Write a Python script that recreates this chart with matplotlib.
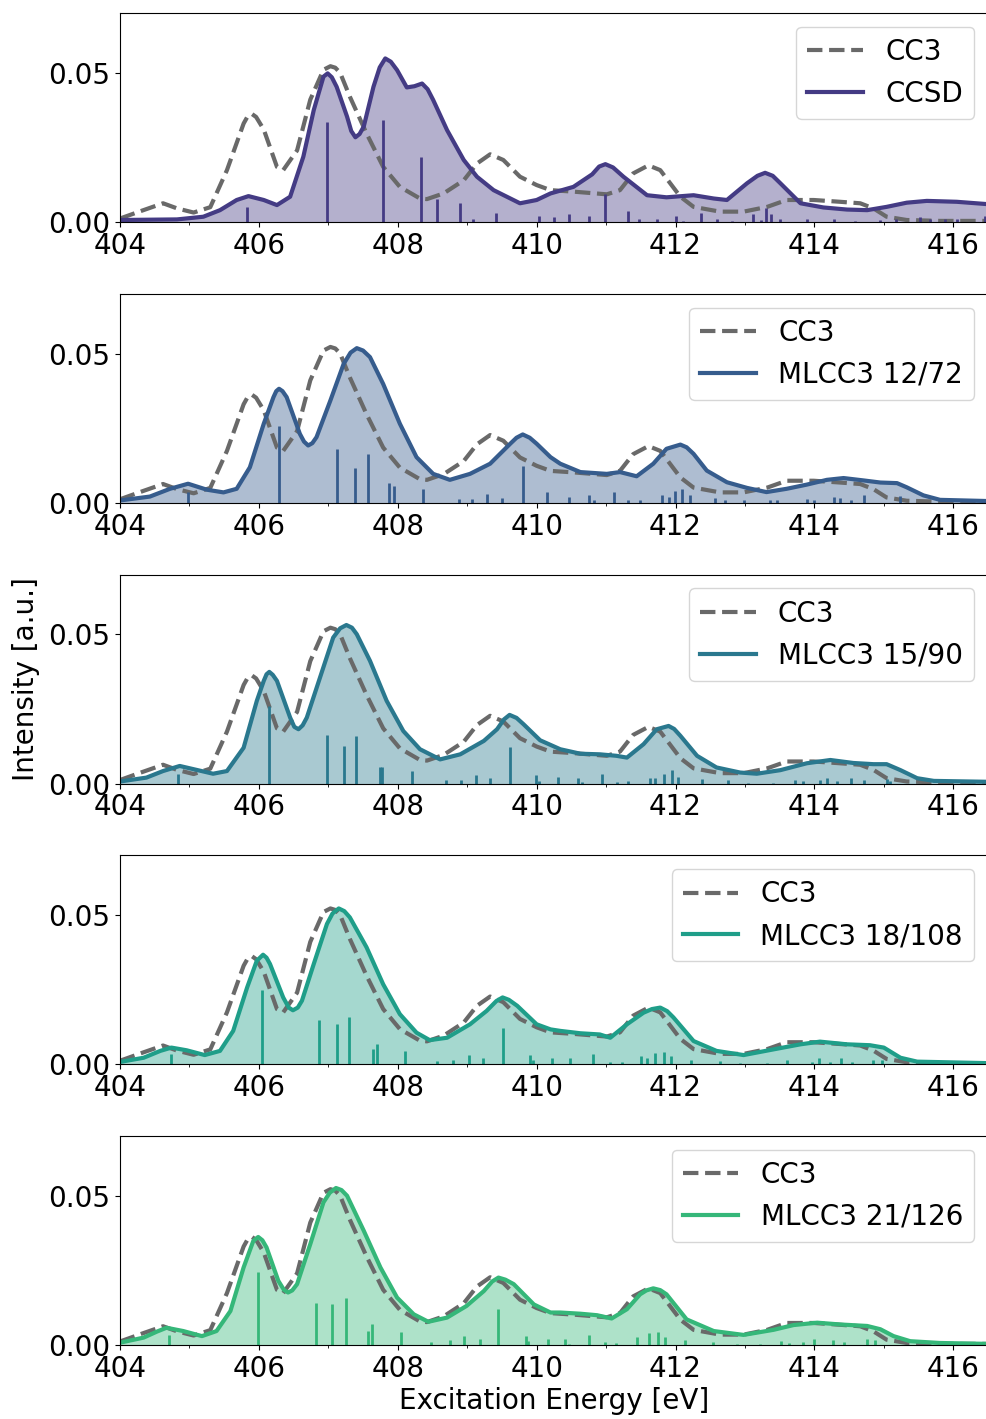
import numpy as np
import matplotlib
matplotlib.use("Agg")
import matplotlib.pyplot as plt
from matplotlib.ticker import MultipleLocator

plt.rcParams['font.size'] = 20

# CC3 reference spectrum (same in every panel)
cc3_energy = [404.0, 404.3, 404.62, 404.82, 405.06, 405.3, 405.54, 405.78, 405.84, 405.9,
              405.96, 406.07, 406.26, 406.35, 406.55, 406.74, 406.93, 407.03, 407.1, 407.17,
              407.31, 407.55, 407.79, 408.03, 408.32, 408.42, 408.66, 408.95, 409.14, 409.33,
              409.52, 409.76, 410.0, 410.2, 410.53, 411.01, 411.2, 411.39, 411.61, 411.78,
              412.07, 412.26, 412.64, 412.98, 413.32, 413.6, 413.99, 414.37, 414.66, 414.85,
              415.04, 415.33, 415.81, 416.5]
cc3_intensity = [0.0012, 0.0037, 0.0063, 0.0046, 0.0032, 0.005, 0.0174, 0.033, 0.0355, 0.0362,
                 0.0352, 0.031, 0.0185, 0.0174, 0.024, 0.041, 0.051, 0.0522, 0.0517, 0.050,
                 0.042, 0.0297, 0.0185, 0.0118, 0.0079, 0.0077, 0.0096, 0.014, 0.0196, 0.0227,
                 0.0208, 0.0152, 0.0124, 0.0107, 0.0102, 0.0093, 0.0107, 0.0163, 0.019, 0.0174,
                 0.0085, 0.0051, 0.0035, 0.0035, 0.0051, 0.0074, 0.0074, 0.0068, 0.0063, 0.0046,
                 0.0018, 0.0007, 0.0004, 0.0004]

# CCSD
ccsd_energy = [404.0, 404.82, 405.2, 405.44, 405.68, 405.85, 406.07, 406.26, 406.45, 406.64,
               406.79, 406.93, 406.99, 407.05, 407.12, 407.27, 407.33, 407.39, 407.45, 407.51,
               407.65, 407.74, 407.82, 407.9, 407.99, 408.13, 408.24, 408.35, 408.43, 408.51,
               408.71, 408.95, 409.14, 409.38, 409.76, 410.0, 410.2, 410.53, 410.8, 410.9,
               410.99, 411.1, 411.25, 411.59, 411.87, 412.26, 412.55, 412.74, 413.03, 413.18,
               413.29, 413.4, 413.51, 413.8, 414.13, 414.47, 414.76, 415.04, 415.33, 415.62,
               416.05, 416.5]
ccsd_intensity = [0.0007, 0.0009, 0.0018, 0.004, 0.0074, 0.0087, 0.0074, 0.0057, 0.0085, 0.0219,
                  0.0375, 0.0487, 0.0498, 0.0485, 0.0453, 0.0353, 0.0305, 0.0284, 0.0295, 0.032,
                  0.0453, 0.0518, 0.0548, 0.0537, 0.0509, 0.0451, 0.0455, 0.0464, 0.0445, 0.0409,
                  0.0308, 0.0208, 0.0152, 0.0107, 0.0063, 0.0074, 0.0096, 0.0118, 0.016, 0.0186,
                  0.0194, 0.0183, 0.0152, 0.009, 0.0083, 0.009, 0.0079, 0.0074, 0.013, 0.0155,
                  0.0165, 0.0155, 0.013, 0.0063, 0.0049, 0.0042, 0.004, 0.0051, 0.0065, 0.0071,
                  0.0068, 0.006]
ccsd_stick_energy = [405.83, 406.98, 407.79, 408.34, 408.56, 408.9, 409.08, 409.42, 410.03, 410.25,
                     410.46, 410.76, 410.98, 411.31, 411.48, 411.73, 412.01, 412.11, 412.36, 412.6,
                     412.81, 413.11, 413.23, 413.3, 413.37, 413.51, 413.89, 414.28, 414.58, 414.95,
                     415.17, 415.52, 415.67, 415.88, 416.05, 416.46]
ccsd_stick_height = [0.0049, 0.0334, 0.0342, 0.0218, 0.0076, 0.0063, 0.001, 0.0032, 0.0019, 0.0016,
                     0.0027, 0.002, 0.0094, 0.0037, 0.0012, 0.0012, 0.002, 0.0003, 0.0032, 0.0009,
                     0.0003, 0.0027, 0.0007, 0.0046, 0.0027, 0.001, 0.001, 0.0012, 0.0004, 0.0007,
                     0.0011, 0.0016, 0.0012, 0.001, 0.0011, 0.0021]

# MLCC3 12/72
ml12_energy = [404.0, 404.43, 404.72, 404.98, 405.25, 405.49, 405.68, 405.87, 406.07, 406.21,
               406.25, 406.29, 406.34, 406.4, 406.59, 406.65, 406.71, 406.77, 406.83, 407.03,
               407.22, 407.32, 407.41, 407.5, 407.6, 407.79, 408.03, 408.27, 408.51, 408.75,
               409.04, 409.33, 409.62, 409.71, 409.8, 409.9, 410.0, 410.2, 410.34, 410.63,
               411.01, 411.2, 411.44, 411.68, 411.87, 412.07, 412.16, 412.26, 412.45, 412.74,
               413.03, 413.31, 413.6, 413.89, 414.18, 414.42, 414.71, 414.95, 415.19, 415.33,
               415.57, 415.81, 416.5]
ml12_intensity = [0.0008, 0.0021, 0.0047, 0.0064, 0.0044, 0.0035, 0.0047, 0.0119, 0.0265, 0.0354,
                  0.0374, 0.0382, 0.0374, 0.0354, 0.0231, 0.0205, 0.0192, 0.02, 0.022, 0.0343,
                  0.0465, 0.0503, 0.0518, 0.051, 0.0488, 0.0398, 0.0265, 0.0153, 0.0097, 0.0077,
                  0.0097, 0.0131, 0.0198, 0.0218, 0.0229, 0.0218, 0.0198, 0.0153, 0.0131, 0.0103,
                  0.0097, 0.0103, 0.0089, 0.0131, 0.0181, 0.0195, 0.0186, 0.0164, 0.0108, 0.0069,
                  0.005, 0.0036, 0.0047, 0.0061, 0.0077, 0.0083, 0.0075, 0.0068, 0.0066, 0.0052,
                  0.0025, 0.001, 0.0006]
ml12_stick_energy = [404.98, 406.29, 407.12, 407.39, 407.57, 407.88, 407.94, 408.36, 408.88, 409.07,
                     409.28, 409.5, 409.8, 410.15, 410.47, 410.76, 410.82, 411.11, 411.31, 411.49,
                     411.8, 411.9, 411.99, 412.1, 412.21, 412.57, 412.71, 412.98, 413.36, 413.46,
                     413.89, 413.99, 414.28, 414.37, 414.52, 414.71, 415.24]
ml12_stick_height = [0.0036, 0.0258, 0.0181, 0.0117, 0.0164, 0.0065, 0.0057, 0.0047, 0.0013, 0.0013,
                     0.003, 0.0017, 0.0122, 0.0036, 0.0021, 0.0025, 0.001, 0.0036, 0.0008, 0.0008,
                     0.0025, 0.0021, 0.0038, 0.0047, 0.0025, 0.0017, 0.0011, 0.0011, 0.0008, 0.0008,
                     0.0013, 0.0008, 0.0019, 0.0017, 0.001, 0.0026, 0.0022]

# MLCC3 15/90
ml15_energy = [404.0, 404.38, 404.62, 404.86, 405.1, 405.34, 405.54, 405.78, 405.97, 406.07,
               406.11, 406.15, 406.2, 406.26, 406.45, 406.51, 406.57, 406.63, 406.69, 406.88,
               407.07, 407.17, 407.26, 407.34, 407.41, 407.6, 407.84, 408.08, 408.32, 408.61,
               408.9, 409.24, 409.43, 409.53, 409.61, 409.71, 409.81, 410.05, 410.34, 410.63,
               410.91, 411.15, 411.3, 411.54, 411.73, 411.9, 411.98, 412.07, 412.31, 412.59,
               412.93, 413.17, 413.51, 413.89, 414.23, 414.56, 414.85, 415.04, 415.24, 415.48,
               415.72, 416.5]
ml15_intensity = [0.0007, 0.002, 0.0042, 0.0059, 0.0046, 0.0033, 0.0042, 0.012, 0.0277, 0.0344,
                  0.0366, 0.0374, 0.0364, 0.0344, 0.0221, 0.019, 0.0182, 0.0195, 0.0221, 0.0355,
                  0.0489, 0.052, 0.0531, 0.0522, 0.05, 0.0411, 0.0277, 0.0176, 0.0115, 0.0081,
                  0.0098, 0.0143, 0.0182, 0.0215, 0.023, 0.022, 0.0199, 0.0145, 0.0115, 0.01,
                  0.0098, 0.0093, 0.0087, 0.0132, 0.0182, 0.0193, 0.0183, 0.016, 0.0093, 0.0054,
                  0.0037, 0.0033, 0.0045, 0.0068, 0.0079, 0.0069, 0.0065, 0.0065, 0.0045, 0.0018,
                  0.0009, 0.0006]
ml15_stick_energy = [404.84, 406.14, 406.98, 407.23, 407.4, 407.74, 407.78, 408.2, 408.69, 408.91,
                     409.12, 409.33, 409.61, 409.99, 410.04, 410.31, 410.59, 410.65, 410.94, 411.16,
                     411.32, 411.63, 411.71, 411.83, 411.95, 412.04, 412.38, 412.76, 413.05, 413.41,
                     413.72, 413.84, 414.08, 414.18, 414.32, 414.52, 414.71, 415.04, 415.09]
ml15_stick_height = [0.0031, 0.026, 0.0162, 0.0126, 0.0158, 0.0054, 0.0057, 0.0041, 0.0011, 0.0011,
                     0.0028, 0.0018, 0.0123, 0.0028, 0.0009, 0.0022, 0.002, 0.0004, 0.0031, 0.0004,
                     0.0007, 0.002, 0.0018, 0.0033, 0.0045, 0.0022, 0.0015, 0.0011, 0.0003, 0.0003,
                     0.0011, 0.0007, 0.0011, 0.0019, 0.0009, 0.0018, 0.0011, 0.0015, 0.0009]

# MLCC3 18/108
ml18_energy = [404.0, 404.34, 404.58, 404.74, 404.96, 405.22, 405.44, 405.63, 405.83, 405.97,
               406.06, 406.11, 406.16, 406.35, 406.43, 406.49, 406.56, 406.62, 406.79, 406.98,
               407.06, 407.15, 407.23, 407.31, 407.55, 407.79, 408.03, 408.27, 408.46, 408.71,
               409.04, 409.28, 409.42, 409.51, 409.6, 409.72, 410.0, 410.2, 410.34, 410.63,
               410.91, 411.06, 411.3, 411.54, 411.66, 411.78, 411.88, 411.97, 412.26, 412.59,
               412.98, 413.41, 413.8, 414.08, 414.47, 414.8, 415.0, 415.24, 415.48, 416.5]
ml18_intensity = [0.0008, 0.0022, 0.0045, 0.0056, 0.0047, 0.0031, 0.0045, 0.0112, 0.0257, 0.0347,
                  0.0367, 0.0357, 0.0336, 0.0224, 0.019, 0.0181, 0.019, 0.0213, 0.0336, 0.047,
                  0.0505, 0.0522, 0.0513, 0.0492, 0.0392, 0.0268, 0.0168, 0.0106, 0.0081, 0.0089,
                  0.0134, 0.0179, 0.0212, 0.0224, 0.0216, 0.0196, 0.0134, 0.0117, 0.0112, 0.0104,
                  0.01, 0.0089, 0.0134, 0.0173, 0.0185, 0.019, 0.0178, 0.0157, 0.0078, 0.0045,
                  0.0031, 0.005, 0.0067, 0.0076, 0.0067, 0.0064, 0.0056, 0.0022, 0.0009, 0.0004]
ml18_stick_energy = [404.73, 406.05, 406.87, 407.12, 407.3, 407.64, 407.7, 408.11, 408.56, 408.8,
                     409.02, 409.23, 409.51, 409.9, 409.95, 410.22, 410.48, 410.81, 411.06, 411.23,
                     411.51, 411.59, 411.71, 411.83, 411.93, 412.23, 412.64, 412.93, 413.32, 413.6,
                     413.96, 414.07, 414.23, 414.39, 414.54, 414.85, 414.97]
ml18_stick_height = [0.0034, 0.0248, 0.0148, 0.0134, 0.0159, 0.005, 0.0067, 0.0044, 0.0011, 0.0013,
                     0.003, 0.002, 0.0122, 0.003, 0.0013, 0.0022, 0.0022, 0.0034, 0.0007, 0.0007,
                     0.0028, 0.002, 0.0037, 0.0042, 0.0027, 0.0015, 0.0011, 0.0004, 0.0004, 0.0013,
                     0.0009, 0.002, 0.0009, 0.002, 0.0009, 0.0013, 0.0013]

# MLCC3 21/126
ml21_energy = [404.0, 404.34, 404.53, 404.67, 404.91, 405.18, 405.39, 405.59, 405.78, 405.92,
               405.99, 406.05, 406.11, 406.28, 406.36, 406.42, 406.48, 406.55, 406.74, 406.93,
               407.02, 407.11, 407.19, 407.27, 407.51, 407.75, 407.99, 408.23, 408.44, 408.71,
               408.99, 409.24, 409.36, 409.45, 409.55, 409.67, 409.96, 410.2, 410.34, 410.63,
               410.87, 411.08, 411.3, 411.49, 411.58, 411.68, 411.78, 411.87, 412.16, 412.55,
               412.98, 413.41, 413.7, 414.04, 414.37, 414.76, 414.95, 415.14, 415.38, 415.81,
               416.5]
ml21_intensity = [0.0008, 0.0025, 0.0045, 0.0058, 0.0047, 0.003, 0.0047, 0.0114, 0.026, 0.0349,
                  0.0362, 0.0351, 0.0327, 0.0215, 0.0185, 0.0176, 0.0183, 0.0204, 0.0338, 0.0478,
                  0.051, 0.0526, 0.0519, 0.05, 0.0383, 0.026, 0.0159, 0.0103, 0.0078, 0.0092,
                  0.0131, 0.0181, 0.0213, 0.0226, 0.0219, 0.0204, 0.0136, 0.0109, 0.0109, 0.0105,
                  0.01, 0.0089, 0.012, 0.017, 0.0183, 0.019, 0.0184, 0.017, 0.0086, 0.0047,
                  0.0034, 0.0051, 0.0067, 0.0075, 0.0069, 0.0064, 0.0053, 0.003, 0.0013, 0.0007,
                  0.0004]
ml21_stick_energy = [404.7, 405.99, 406.82, 407.05, 407.25, 407.57, 407.63, 408.05, 408.48, 408.75,
                     408.96, 409.18, 409.45, 409.84, 409.87, 410.16, 410.41, 410.47, 410.75, 410.99,
                     411.15, 411.44, 411.62, 411.75, 411.85, 412.14, 412.54, 412.88, 413.22, 413.52,
                     413.63, 413.84, 413.99, 414.27, 414.42, 414.76, 414.88]
ml21_stick_height = [0.0034, 0.0245, 0.0141, 0.0138, 0.0158, 0.0047, 0.0069, 0.0044, 0.0009, 0.0016,
                     0.003, 0.0019, 0.012, 0.003, 0.0013, 0.0022, 0.0022, 0.0004, 0.0034, 0.001,
                     0.0007, 0.0027, 0.0041, 0.0044, 0.0027, 0.0016, 0.0011, 0.0004, 0.0004, 0.0013,
                     0.0007, 0.0011, 0.002, 0.0016, 0.0009, 0.0022, 0.0016]

labels = ['CCSD', 'MLCC3 12/72', 'MLCC3 15/90', 'MLCC3 18/108', 'MLCC3 21/126']
colors = ['#443b84', '#365c8d', '#2a788e', '#1f9e89', '#35b779']
spectra = [
    (ccsd_energy, ccsd_intensity, ccsd_stick_energy, ccsd_stick_height),
    (ml12_energy, ml12_intensity, ml12_stick_energy, ml12_stick_height),
    (ml15_energy, ml15_intensity, ml15_stick_energy, ml15_stick_height),
    (ml18_energy, ml18_intensity, ml18_stick_energy, ml18_stick_height),
    (ml21_energy, ml21_intensity, ml21_stick_energy, ml21_stick_height),
]

fig, axes = plt.subplots(5, 1, figsize=(9.87, 14.19), dpi=100)
plt.subplots_adjust(left=0.1216, right=1.001, top=0.9908, bottom=0.0521, hspace=0.343)

for ax, lab, col, (en, inten, se, sh) in zip(axes, labels, colors, spectra):
    ax.plot(cc3_energy, cc3_intensity, ls='--', color='dimgray', lw=3, label='CC3',
            dash_joinstyle='round')
    ax.fill_between(en, inten, color=col, alpha=0.4, lw=0)
    ax.vlines(se, 0, sh, color=col, lw=2)
    ax.plot(en, inten, color=col, lw=3, label=lab, solid_joinstyle='round')
    ax.set_xlim(404, 416.5)
    ax.set_ylim(0, 0.07)
    ax.set_xticks(np.arange(404, 417, 2))
    ax.xaxis.set_minor_locator(MultipleLocator(1))
    ax.set_yticks([0, 0.05])
    ax.legend(loc='upper right')

axes[-1].set_xlabel('Excitation Energy [eV]', labelpad=3)
fig.text(0.026, 0.5215, 'Intensity [a.u.]', rotation=90, ha='center', va='center')

plt.savefig('out.png', dpi=100)
